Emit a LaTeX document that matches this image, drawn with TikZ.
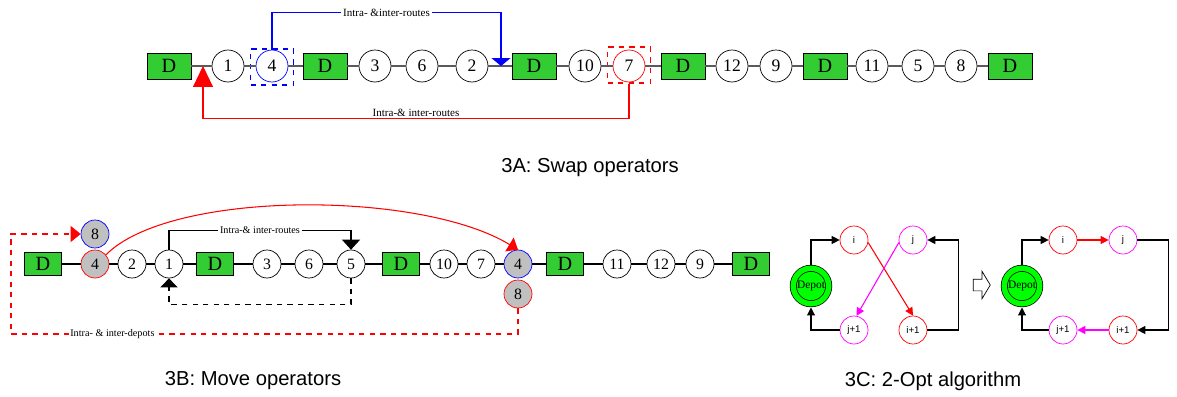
\documentclass[tikz,border=0pt]{standalone}
\usepackage{fontspec}
\setmainfont{Liberation Serif}
\setsansfont{Liberation Sans}
\usetikzlibrary{shapes.arrows, arrows.meta}
\definecolor{dgreen}{RGB}{51,204,51}
\definecolor{cgray}{RGB}{192,192,192}
\definecolor{lgray}{RGB}{90,90,90}
\definecolor{mgt}{RGB}{255,0,255}

\begin{document}
\begin{tikzpicture}[
    x=0.02cm, y=0.02cm,
    depotA/.style = {rectangle, draw, fill=dgreen, minimum width=0.88cm, minimum height=0.52cm, inner sep=0pt, font=\fontsize{11.5}{12}\selectfont},
    custA/.style  = {circle, draw, fill=white, minimum size=0.64cm, inner sep=0pt, font=\fontsize{10}{12}\selectfont},
    selbox/.style = {rectangle, draw, dashed, minimum width=0.86cm, minimum height=0.72cm, line width=0.6pt},
    depotB/.style = {depotA, minimum width=0.74cm, minimum height=0.46cm},
    custB/.style  = {custA, minimum size=0.56cm, font=\fontsize{9}{11}\selectfont},
    moved/.style  = {custB, fill=cgray},
    custC/.style  = {circle, draw, fill=white, minimum size=0.56cm, inner sep=0pt, font=\sffamily\fontsize{5.5}{6}\selectfont},
    depotC/.style = {circle, draw, fill=green, double=green, double distance=0.11cm, minimum size=0.71cm, outer sep=0.075cm, inner sep=0pt, font=\fontsize{6.5}{7}\selectfont},
    link/.style   = {draw=lgray, line width=0.7pt},
    lab/.style    = {font=\fontsize{6.3}{7}\selectfont, text=black, inner sep=1pt},
    labB/.style   = {lab, font=\fontsize{5.8}{6}\selectfont},
    caption/.style= {font=\sffamily\fontsize{11.5}{13}\selectfont},
    tipC/.style   = {-{Triangle[width=0.16cm, length=0.16cm]}, line width=0.6pt}
]
\useasboundingbox (0,0) rectangle (1177,-396);

% --- 3A: swap ---
\node[depotA] (dA1) at (169,-66) {D};
\node[custA] (a1) at (228,-66) {1};
\node[custA, draw=blue] (a4) at (272,-66) {4};
\node[depotA] (dA2) at (325,-66) {D};
\node[custA] (a3) at (375,-66) {3};
\node[custA] (a6) at (422,-66) {6};
\node[custA] (a2) at (472,-66) {2};
\node[depotA] (dA3) at (534,-66) {D};
\node[custA] (a10) at (585,-66) {10};
\node[custA, draw=red] (a7) at (629,-66) {7};
\node[depotA] (dA4) at (683,-66) {D};
\node[custA] (a12) at (732,-66) {12};
\node[custA] (a9) at (776,-66) {9};
\node[depotA] (dA5) at (825,-66) {D};
\node[custA] (a11) at (872,-66) {11};
\node[custA] (a5) at (918,-66) {5};
\node[custA] (a8) at (961,-66) {8};
\node[depotA] (dA6) at (1010,-66) {D};
\node[selbox, draw=blue] (s4) at (272,-67) {};
\node[selbox, draw=red] (s7) at (629,-65) {};
\coordinate (tipB) at (501,-66);
\coordinate (tipR) at (203,-66);

\draw[link] (dA1) -- (a1) -- (a4) -- (dA2) -- (a3) -- (a6) -- (a2) -- (dA3) -- (a10) -- (a7) -- (dA4) -- (a12) -- (a9) -- (dA5) -- (a11) -- (a5) -- (a8) -- (dA6);
\draw[blue, line width=0.6pt, -{Triangle[width=0.38cm, length=0.16cm]}] (a4.north) -- ++(0,37) -| node[pos=0.25, lab, fill=white]{Intra- \&inter-routes} (tipB);
\draw[red, line width=0.6pt, -{Triangle[width=0.4cm, length=0.42cm]}] (s7.south) -- ++(0,-35) -| node[pos=0.25, lab, above]{Intra-\& inter-routes} (tipR);

\node[caption] (capA) at (590,-168) {3A: Swap operators};

% --- 3B: move ---
\node[depotB] (dB1) at (43,-264) {D};
\node[moved, draw=red] (b4) at (95,-264) {4};
\node[moved, draw=blue] (b8) at (95,-234) {8};
\node[custB] (b2) at (132,-264) {2};
\node[custB] (b1) at (169,-264) {1};
\node[depotB] (dB2) at (215,-264) {D};
\node[custB] (b3) at (267,-264) {3};
\node[custB] (b6) at (309,-264) {6};
\node[custB] (b5) at (351,-264) {5};
\node[depotB] (dB3) at (401,-264) {D};
\node[custB] (b10) at (444,-264) {10};
\node[custB] (b7) at (481,-264) {7};
\node[moved, draw=blue] (b4n) at (518,-264) {4};
\node[moved, draw=red] (b8n) at (518,-294) {8};
\node[depotB] (dB4) at (565,-264) {D};
\node[custB] (b11) at (617,-264) {11};
\node[custB] (b12) at (661,-264) {12};
\node[custB] (b9) at (700,-264) {9};
\node[depotB] (dB5) at (751,-264) {D};
\coordinate (cDep) at (11,-334);

\draw[line width=0.6pt] (dB1) -- (b4) -- (b2) -- (b1) -- (dB2) -- (b3) -- (b6) -- (b5) -- (dB3) -- (b10) -- (b7) -- (b4n) -- (dB4) -- (b11) -- (b12) -- (b9) -- (dB5);
\draw[line width=0.6pt, -{Triangle[width=0.36cm, length=0.2cm]}] (b1.north) -- ++(0,19) -| node[pos=0.25, labB, fill=white]{Intra-\& inter-routes} (b5.north);
\draw[line width=0.6pt, dashed, -{Triangle[width=0.34cm, length=0.18cm]}] (b5.south) -- ++(0,-26) -| (b1.south);
\draw[red, line width=0.6pt, dashed, -{Triangle[width=0.32cm, length=0.2cm]}] (b8n.south) |- node[pos=0.9, labB, fill=white]{Intra- \& inter-depots} (cDep) |- (b8.west);
\draw[red, line width=0.6pt, -{Triangle[width=0.32cm, length=0.2cm]}] (b4.40) .. controls (170,-190) and (420,-190) .. (b4n.north);

\node[caption] (capB) at (253,-381) {3B: Move operators};

% --- 3C: 2-opt ---
\node[depotC] (depL) at (811,-286) {Depot};
\node[custC, draw=red] (iL) at (854,-240) {i};
\node[custC, draw=mgt] (jL) at (913,-240) {j};
\node[custC, draw=mgt] (j1L) at (854,-330) {j+1};
\node[custC, draw=red] (i1L) at (913,-330) {i+1};

\node[single arrow, draw, fill=white, minimum height=0.34cm, inner sep=0.11cm, single arrow head extend=0.16cm, single arrow tip angle=118] (turn) at (980,-285) {};

\node[depotC] (depR) at (1022,-286) {Depot};
\node[custC, draw=red] (iR) at (1063,-240) {i};
\node[custC, draw=mgt] (jR) at (1123,-240) {j};
\node[custC, draw=red] (i1R) at (1123,-330) {i+1};
\node[custC, draw=mgt] (j1R) at (1063,-330) {j+1};

\draw[tipC] (depL.north) |- (iL.west);
\draw[tipC, red] (iL.-10) -- (i1L.north);
\draw[tipC, mgt] (jL.190) -- (j1L.80);
\draw[tipC] (i1L.east) -- ++(31,0) |- (jL.east);
\draw[tipC] (j1L.west) -| (depL.south);

\draw[tipC] (depR.north) |- (iR.west);
\draw[tipC, red] (iR) -- (jR);
\draw[tipC] (jR.east) -- ++(31,0) |- (i1R.east);
\draw[tipC, mgt] (i1R) -- (j1R);
\draw[tipC] (j1R.west) -| (depR.south);

\node[caption] (capC) at (933,-381) {3C: 2-Opt algorithm};

\end{tikzpicture}
\end{document}
